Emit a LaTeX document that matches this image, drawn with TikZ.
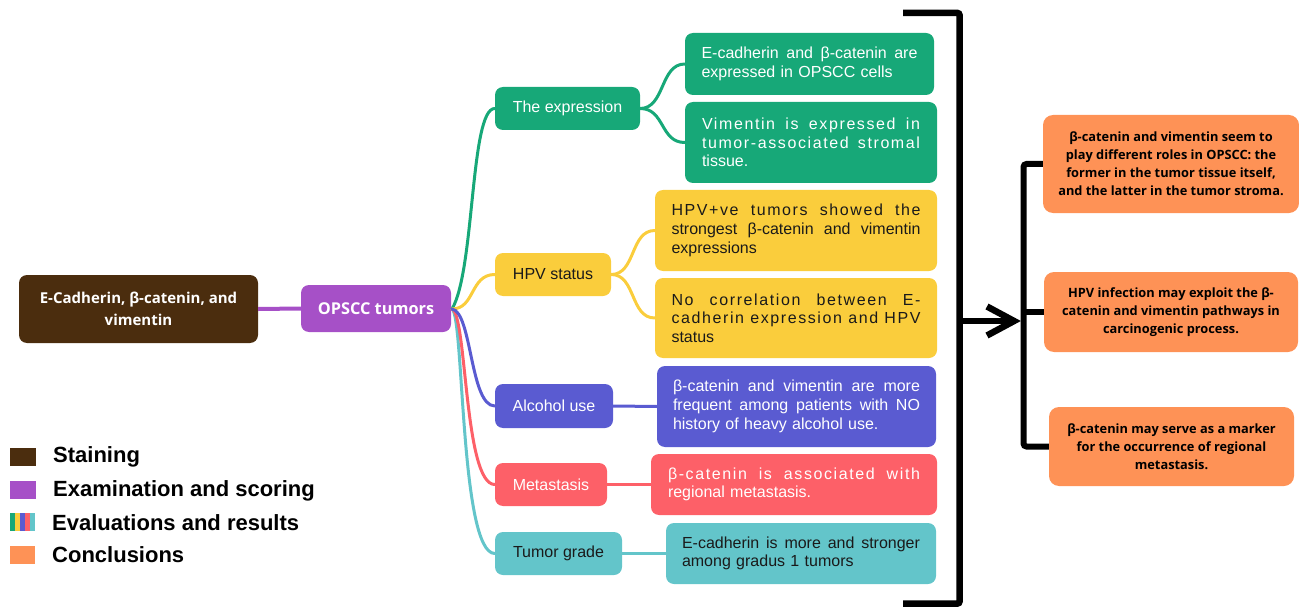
\documentclass[tikz,border=0pt]{standalone}
\usepackage{fontspec}
\setmainfont{Liberation Sans}
\newfontfamily\osans{Open Sans}
\newfontfamily\lsfont{Liberation Sans}[LetterSpace=10]
\definecolor{cbrown}{HTML}{4B2D0E}
\definecolor{cpurple}{HTML}{A650C7}
\definecolor{cgreen}{HTML}{17A878}
\definecolor{cyellow}{HTML}{FACD3C}
\definecolor{cblue}{HTML}{5A5BD1}
\definecolor{cred}{HTML}{FD6068}
\definecolor{cteal}{HTML}{63C5CA}
\definecolor{corange}{HTML}{FE9256}
\definecolor{cdark}{HTML}{1A1A1A}
\newcommand\jl[1]{\noindent\makebox[\hsize][s]{\spaceskip=0.278em plus 20em\relax\xspaceskip=\spaceskip #1}}
\newcommand\jls[1]{\noindent\makebox[\hsize][s]{\lsfont\spaceskip=0.278em plus 20em\relax\xspaceskip=\spaceskip #1}}
\tikzset{
  box/.style={rounded corners=8pt, inner sep=0pt, align=center},
  catbox/.style={box, font=\fontsize{16}{19}\selectfont},
  detbox/.style={box, align=left, font=\fontsize{16}{18.7}\selectfont},
  conclbox/.style={rounded corners=10pt, fill=corange, inner sep=0pt, align=center, text=black,
     font=\osans\bfseries\fontsize{12.8}{18}\selectfont},
  branch/.style={line width=3pt, line cap=round},
  blk/.style={line width=6.5pt, black},
  legtext/.style={anchor=west, inner sep=0pt, font=\bfseries\fontsize{22}{24}\selectfont},
}
\begin{document}
\begin{tikzpicture}[x=1pt,y=-1pt]
\useasboundingbox (0,0) rectangle (1299,607);

% main nodes
\node[box, fill=cbrown, text=white, minimum width=239pt, minimum height=68pt,
  font=\osans\bfseries\fontsize{15}{21.5}\selectfont] (stain) at (138.5,309) {E-Cadherin, β-catenin, and\\vimentin};
\node[box, fill=cpurple, text=white, minimum width=150pt, minimum height=47pt,
  font=\osans\bfseries\fontsize{16.3}{19}\selectfont] (opscc) at (376,308.5) {OPSCC tumors};

% categories
\node[catbox, fill=cgreen, text=white, minimum width=145pt, minimum height=43pt] (expr) at (567.5,108.5) {The expression};
\node[catbox, fill=cyellow, text=cdark, minimum width=116pt, minimum height=43pt] (hpv) at (553,274.5) {HPV status};
\node[catbox, fill=cblue, text=white, minimum width=118pt, minimum height=44pt] (alc) at (554,406) {Alcohol use};
\node[catbox, fill=cred, text=white, minimum width=112pt, minimum height=43pt] (meta) at (551,484.5) {Metastasis};
\node[catbox, fill=cteal, text=cdark, minimum width=127pt, minimum height=43pt] (grade) at (558.5,553.5) {Tumor grade};

% details
\node[detbox, fill=cgreen, text=white, minimum width=249pt, minimum height=62pt, text width=216pt] (g1) at (809.5,64)
  {\jl{E-cadherin and β-catenin are}\\expressed in OPSCC cells};
\node[detbox, fill=cgreen, text=white, minimum width=252pt, minimum height=81pt, text width=218pt] (g2) at (811,142.5)
  {\jls{Vimentin is expressed in}\\\jls{tumor-associated stromal}\\tissue.};
\node[detbox, fill=cyellow, text=cdark, minimum width=282pt, minimum height=81pt, text width=249pt] (y1) at (796,230.5)
  {\jls{HPV+ve tumors showed the}\\\jl{strongest β-catenin and vimentin}\\expressions};
\node[detbox, fill=cyellow, text=cdark, minimum width=282pt, minimum height=80pt, text width=249pt] (y2) at (796,318)
  {\jls{No correlation between E-}\\\jls{cadherin expression and HPV}\\status};
\node[detbox, fill=cblue, text=white, minimum width=279pt, minimum height=81pt, text width=247pt] (a1) at (796.5,406.5)
  {\jl{β-catenin and vimentin are more}\\\jl{frequent among patients with NO}\\history of heavy alcohol use.};
\node[detbox, fill=cred, text=white, minimum width=286pt, minimum height=61pt, text width=252pt] (m1) at (794,484.5)
  {\jls{β-catenin is associated with}\\regional metastasis.};
\node[detbox, fill=cteal, text=cdark, minimum width=270pt, minimum height=61pt, text width=238pt] (t1) at (801,553.5)
  {\jl{E-cadherin is more and stronger}\\among gradus 1 tumors};

% conclusions
\node[conclbox, minimum width=256pt, minimum height=98pt] (c1) at (1171,164)
  {β-catenin and vimentin seem to\\play different roles in OPSCC: the\\former in the tumor tissue itself,\\and the latter in the tumor stroma.};
\node[conclbox, minimum width=254pt, minimum height=80pt] (c2) at (1171,312)
  {HPV infection may exploit the β-\\catenin and vimentin pathways in\\carcinogenic process.};
\node[conclbox, minimum width=245pt, minimum height=79pt] (c3) at (1171.5,446.5)
  {β-catenin may serve as a marker\\for the occurrence of regional\\metastasis.};

% connectors
\draw[line width=4pt, cpurple] (stain.east) -- (opscc.west);
\coordinate (hub) at (452,309);
\draw[branch, cgreen] (hub) .. controls (475,270) and (470,108.5) .. (expr.west);
\draw[branch, cyellow] (hub) .. controls (475,309) and (470,274.5) .. (hpv.west);
\draw[branch, cteal] (hub) .. controls (464,316) and (460,553.5) .. (grade.west);
\draw[branch, cred] (hub) .. controls (467,315) and (464,484.5) .. (meta.west);
\draw[branch, cblue] (hub) .. controls (472,312) and (470,406) .. (alc.west);

\draw[branch, cgreen] (expr.east) .. controls (665,108.5) and (660,64) .. (g1.west);
\draw[branch, cgreen] (expr.east) .. controls (665,108.5) and (660,142.5) .. (g2.west);
\draw[branch, cyellow] (hpv.east) .. controls (636,274.5) and (630,230.5) .. (y1.west);
\draw[branch, cyellow] (hpv.east) .. controls (636,274.5) and (630,318) .. (y2.west);
\draw[branch, cblue] (alc.east) -- (a1.west);
\draw[branch, cred] (meta.east) -- (m1.west);
\draw[branch, cteal] (grade.east) -- (t1.west);

% big bracket and arrow
\coordinate (btop) at (903,13);
\coordinate (bbot) at (903,603.5);
\coordinate (bmid) at (959.5,321);
\coordinate (tip) at (1014,321);
\draw[blk, rounded corners=2pt] (btop) -- (959.5,13) -- (959.5,603.5) -- (bbot);
\draw[blk] (bmid) -- (1010,321);
\draw[blk, miter limit=10] (987,306.5) -- (tip) -- (987,335.5);

% right bracket
\coordinate (rtop) at (1023.5,164);
\coordinate (rbot) at (1023.5,446.5);
\draw[line width=6pt, black, rounded corners=3pt] (c1.west) -- (rtop) -- (rbot) -- (c3.west);
\draw[line width=6pt, black] (1023.5,312) -- (c2.west);

% legend
\fill[cbrown] (10,448) rectangle (36,466);
\node[legtext] (l1) at (53,457) {Staining};
\fill[cpurple] (10,481) rectangle (36,499);
\node[legtext] (l2) at (53,491) {Examination and scoring};
\fill[cgreen] (10,513) rectangle (15,531);
\fill[cyellow] (15,513) rectangle (20,531);
\fill[cblue] (20,513) rectangle (25,531);
\fill[cred] (25,513) rectangle (30,531);
\fill[cteal] (30,513) rectangle (35,531);
\node[legtext] (l3) at (52,523) {Evaluations and results};
\fill[corange] (10,546) rectangle (35,564);
\node[legtext] (l4) at (52,555) {Conclusions};
\end{tikzpicture}
\end{document}
